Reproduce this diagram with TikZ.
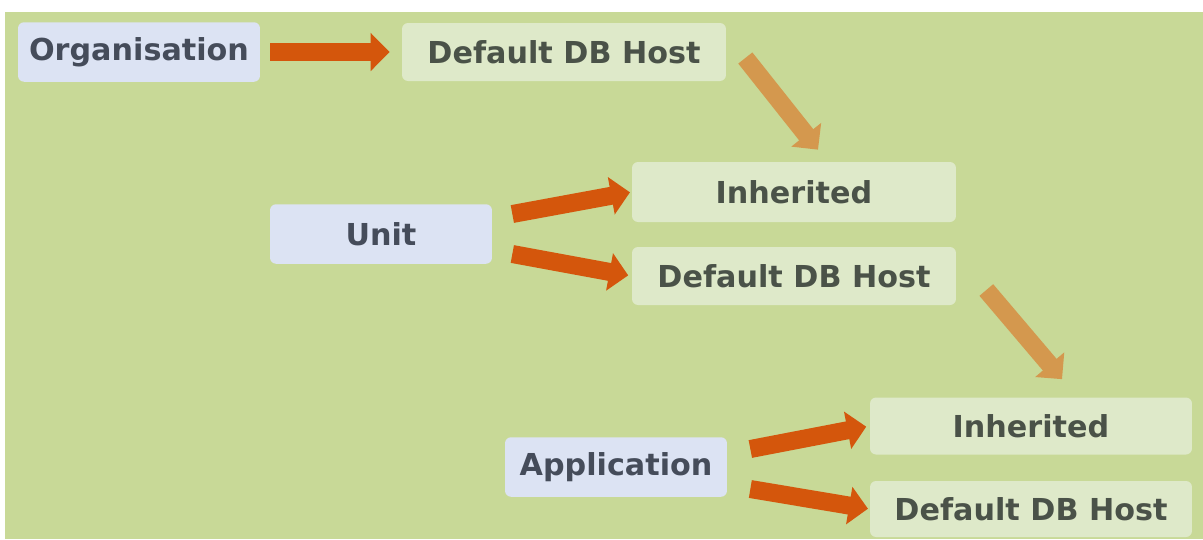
\documentclass[tikz,border=0pt]{standalone}
\usepackage{fontspec}
\setmainfont{DejaVu Sans}
\usetikzlibrary{arrows.meta}
\definecolor{bg}{HTML}{C8D997}
\definecolor{levelbox}{HTML}{DCE3F3}
\definecolor{hostbox}{HTML}{DEE9C9}
\definecolor{leveltext}{HTML}{454C5A}
\definecolor{hosttext}{HTML}{4A5248}
\definecolor{flow}{HTML}{D4560C}
\definecolor{down}{HTML}{D4984E}
\begin{document}
\begin{tikzpicture}[x=0.02cm, y=-0.02cm,
    box/.style={rounded corners=0.12cm, inner sep=0pt, font=\fontsize{17.2}{20}\selectfont\bfseries},
    level/.style={box, fill=levelbox, text=leveltext, minimum width=4.44cm, minimum height=1.19cm},
    host/.style={box, fill=hostbox, text=hosttext, minimum width=6.48cm, minimum height=1.16cm},
    bigarrow/.style={line width=0.36cm, -{Triangle[length=0.38cm, width=0.74cm]}},
    flowarrow/.style={bigarrow, flow},
    downarrow/.style={bigarrow, down}]
\fill[white] (0,0) rectangle (1203,539);
\fill[bg] (5,12) rectangle (1203,539);
% levels
\node[level, minimum width=4.84cm] (org) at (139,52) {Organisation};
\node[level] (unit) at (381,234) {Unit};
\node[level] (app) at (616,467) {Application};
% hosts
\node[host] (db1) at (564,52) {Default DB Host};
\node[host, minimum height=1.2cm] (inh2) at (794,192) {Inherited};
\node[host] (db2) at (794,276) {Default DB Host};
\node[host, minimum width=6.44cm, minimum height=1.14cm] (inh3) at (1031,426) {Inherited};
\node[host, minimum width=6.44cm, minimum height=1.12cm] (db3) at (1031,509) {Default DB Host};
% arrows
\draw[flowarrow, shorten <=0.2cm, shorten >=0.24cm] (org.east) -- (db1.west);
\draw[flowarrow, shorten >=1pt] ([shift={(20,-20)}]unit.east) -- (inh2.west);
\draw[flowarrow, shorten >=2pt] ([shift={(20,20)}]unit.east) -- (db2.west);
\draw[flowarrow, shorten >=2pt] ([shift={(23,-18)}]app.east) -- (inh3.west);
\draw[flowarrow, shorten >=1pt] ([shift={(23,22)}]app.east) -- (db3.west);
\draw[downarrow] ([shift={(19,6)}]db1.east) -- ([shift={(24,-12)}]inh2.north);
\draw[downarrow] ([shift={(30,14)}]db2.east) -- ([shift={(31,-18)}]inh3.north);
\end{tikzpicture}
\end{document}
